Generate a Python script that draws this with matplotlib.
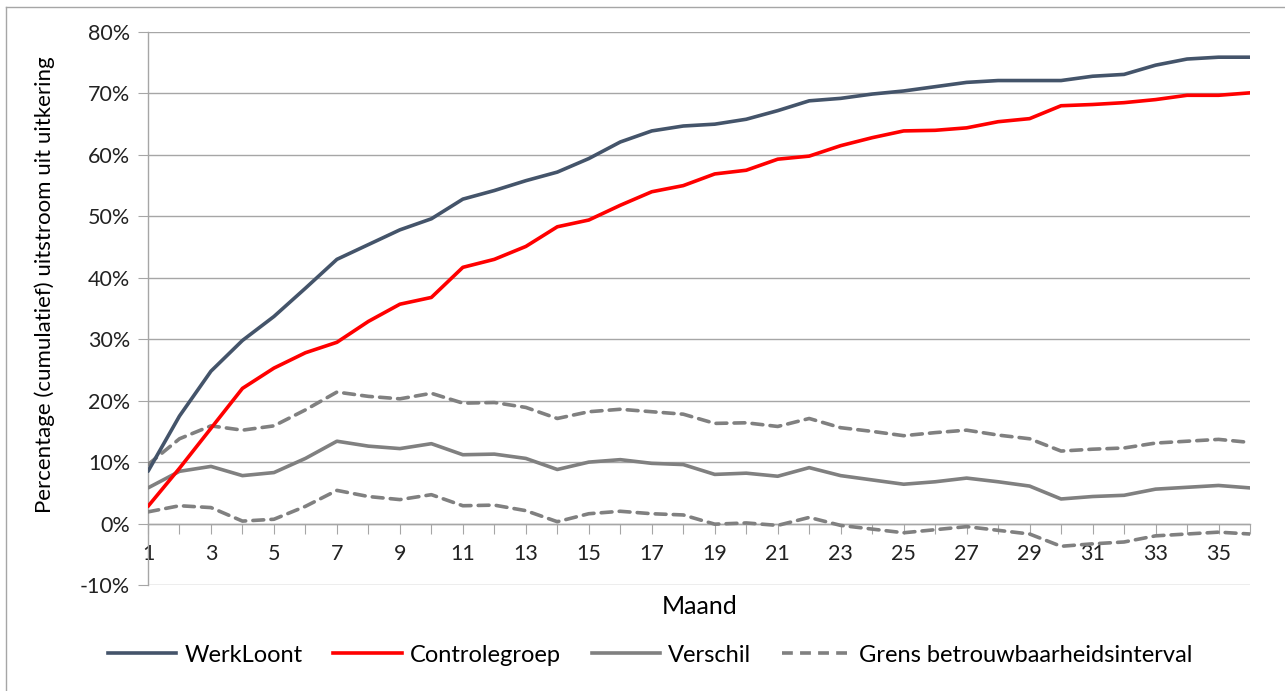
import matplotlib
matplotlib.use("Agg")
import matplotlib.pyplot as plt
from matplotlib.lines import Line2D
from matplotlib.ticker import FuncFormatter, MultipleLocator

plt.rcParams['font.family'] = ['Lato', 'DejaVu Sans']

# maanden 1..36
maand = list(range(1, 37))

werkloont = [8.5, 17.5, 24.8, 29.8, 33.7, 38.3, 43.0, 45.4, 47.8, 49.6,
             52.8, 54.2, 55.8, 57.2, 59.4, 62.1, 63.9, 64.7, 65.0, 65.8,
             67.2, 68.8, 69.2, 69.9, 70.4, 71.1, 71.8, 72.1, 72.1, 72.1,
             72.8, 73.1, 74.6, 75.6, 75.9, 75.9]

controlegroep = [2.8, 9.0, 15.5, 22.0, 25.3, 27.8, 29.5, 32.9, 35.7, 36.8,
                 41.7, 43.0, 45.1, 48.3, 49.4, 51.8, 54.0, 55.0, 56.9, 57.5,
                 59.3, 59.8, 61.5, 62.8, 63.9, 64.0, 64.4, 65.4, 65.9, 68.0,
                 68.2, 68.5, 69.0, 69.7, 69.7, 70.1]

verschil = [5.8, 8.5, 9.3, 7.8, 8.3, 10.6, 13.4, 12.6, 12.2, 13.0,
            11.2, 11.3, 10.6, 8.8, 10.0, 10.4, 9.8, 9.6, 8.0, 8.2,
            7.7, 9.1, 7.8, 7.1, 6.4, 6.8, 7.4, 6.8, 6.1, 4.0,
            4.4, 4.6, 5.6, 5.9, 6.2, 5.8]

grens_boven = [9.6, 13.8, 15.9, 15.2, 15.9, 18.5, 21.4, 20.7, 20.3, 21.2,
               19.6, 19.7, 18.9, 17.1, 18.2, 18.6, 18.2, 17.8, 16.3, 16.4,
               15.8, 17.1, 15.6, 15.0, 14.3, 14.8, 15.2, 14.4, 13.8, 11.8,
               12.1, 12.3, 13.1, 13.4, 13.7, 13.2]

grens_onder = [1.9, 2.9, 2.6, 0.4, 0.7, 2.8, 5.4, 4.4, 3.9, 4.7,
               2.9, 3.0, 2.1, 0.3, 1.6, 2.0, 1.6, 1.4, -0.1, 0.1,
               -0.3, 1.0, -0.3, -0.9, -1.5, -1.0, -0.5, -1.1, -1.7, -3.7,
               -3.3, -3.0, -2.0, -1.7, -1.4, -1.7]

C_WERK = '#44546a'
C_CONTROLE = '#ff0000'
C_GRIJS = '#808080'
C_GRID = '#a6a6a6'

fig = plt.figure(figsize=(12.85, 6.91), dpi=100)
ax = fig.add_axes([148 / 1285, 1 - 585 / 691, (1250 - 148) / 1285, (585 - 32) / 691])

lw = 2.6
ax.plot(maand, werkloont, color=C_WERK, lw=lw, solid_capstyle='round', zorder=5)
ax.plot(maand, controlegroep, color=C_CONTROLE, lw=lw, solid_capstyle='round', zorder=5)
ax.plot(maand, verschil, color=C_GRIJS, lw=lw, solid_capstyle='round', zorder=4)
ax.plot(maand, grens_boven, color=C_GRIJS, lw=lw, ls=(0, (3, 2)), dash_capstyle='round', zorder=4)
ax.plot(maand, grens_onder, color=C_GRIJS, lw=lw, ls=(0, (3, 2)), dash_capstyle='round', zorder=4)

ax.set_xlim(1, 36)
ax.set_ylim(-10, 80)
ax.yaxis.set_major_locator(MultipleLocator(10))
ax.yaxis.set_major_formatter(FuncFormatter(lambda v, p: f"{v:.0f}%"))
ax.grid(axis='y', color=C_GRID, lw=1.0, zorder=0)

ax.set_xticks(maand)
ax.set_xticklabels([str(m) if m % 2 == 1 else '' for m in maand])

for s in ['top', 'right']:
    ax.spines[s].set_visible(False)
ax.spines['bottom'].set_position(('data', 0))
ax.spines['bottom'].set_color(C_GRID)
ax.spines['left'].set_color(C_GRID)
ax.spines['bottom'].set_linewidth(1.0)
ax.spines['left'].set_linewidth(1.0)

ax.tick_params(axis='x', direction='out', length=7, color=C_GRID, pad=8,
               labelsize=15.5, labelcolor='#222222')
ax.tick_params(axis='y', direction='out', length=7, color=C_GRID, pad=6,
               labelsize=15.5, labelcolor='#222222')

fig.text(45 / 1285, 1 - 285 / 691, 'Percentage (cumulatief) uitstroom uit uitkering',
         rotation=90, ha='center', va='center', fontsize=16, color='black')
fig.text(700 / 1285, 1 - 606 / 691, 'Maand', ha='center', va='center', fontsize=18)

handles = [
    Line2D([], [], color=C_WERK, lw=lw),
    Line2D([], [], color=C_CONTROLE, lw=lw),
    Line2D([], [], color=C_GRIJS, lw=lw),
    Line2D([], [], color=C_GRIJS, lw=lw, ls=(0, (3, 2))),
]
labels = ['WerkLoont', 'Controlegroep', 'Verschil', 'Grens betrouwbaarheidsinterval']
fig.legend(handles, labels, loc='center', bbox_to_anchor=(650 / 1285, 1 - 655 / 691),
           ncol=4, frameon=False, fontsize=17, handlelength=2.9, handletextpad=0.35,
           columnspacing=1.3)

# kaderlijnen van de grafiek (links en boven)
fig.add_artist(Line2D([6 / 1285, 6 / 1285], [0, 1 - 7 / 691], transform=fig.transFigure,
                      color=C_GRID, lw=1.0))
fig.add_artist(Line2D([6 / 1285, 1], [1 - 7 / 691, 1 - 7 / 691], transform=fig.transFigure,
                      color=C_GRID, lw=1.0))

fig.savefig('out.png', dpi=100)
